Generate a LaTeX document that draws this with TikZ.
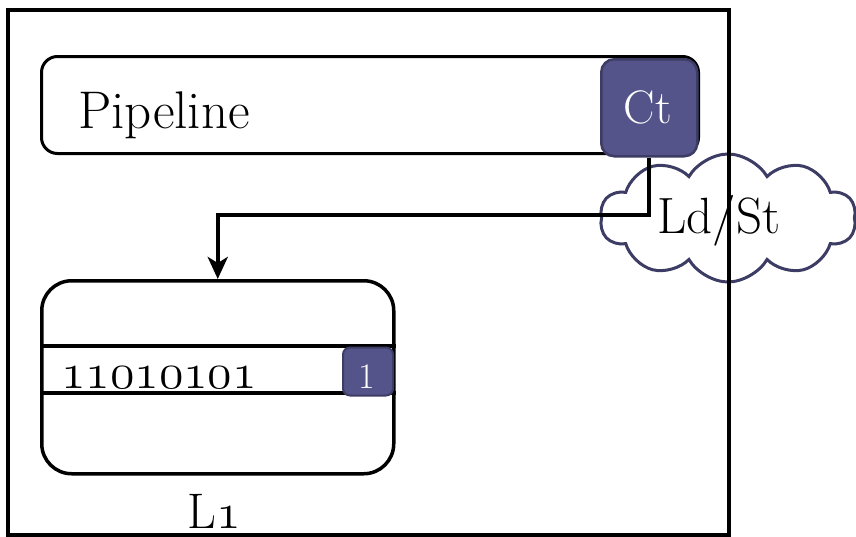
\RequirePackage{fix-cm}
\documentclass[tikz,border=0pt]{standalone}
\usetikzlibrary{shapes.symbols,arrows.meta}
\definecolor{tagfill}{RGB}{84,84,138}
\definecolor{tagedge}{RGB}{60,60,100}
\newcommand\fs[1]{\fontsize{#1}{#1}\selectfont}
\tikzset{
  box/.style={draw, line width=3pt, rounded corners=#1, inner sep=0pt},
  tag/.style={draw=tagedge, fill=tagfill, line width=2.5pt, rounded corners=#1,
    inner sep=0pt, text=white},
  wire/.style={line width=4pt},
}
\begin{document}
\begin{tikzpicture}[x=1pt,y=-1pt]
\useasboundingbox (0,0) rectangle (856,536);

% pipeline bar with its control tag
\node[box=16pt, minimum width=657pt, minimum height=97pt, anchor=north west]
  (pipe) at (40,55) {};
\node[font=\fs{53}, anchor=base west, inner sep=0pt] (pipetxt) at (78,128) {Pipeline};
\node[tag=13pt, minimum width=96pt, minimum height=97pt, anchor=north west]
  (ct) at (600,58) {};
\node[font=\fs{47}, text=white, anchor=base] (cttxt) at (648,123) {Ct};

% load/store cloud
\node[cloud, draw=tagedge, fill=white, line width=3pt, cloud puffs=10,
  cloud puff arc=120, aspect=2, minimum width=256pt, minimum height=128pt,
  inner sep=0pt] (cloud) at (728,218) {};
\node[font=\fs{51}, anchor=base] (ldst) at (719,233) {Ld/St};

% L1 cache block
\node[box=30pt, line width=3.5pt, minimum width=352pt, minimum height=193pt,
  anchor=north west] (l1) at (40,279) {};
\coordinate (rowtop) at (0,346);
\coordinate (rowbot) at (0,393);
\draw[line width=3.5pt] (l1.west |- rowtop) -- (l1.east |- rowtop);
\draw[line width=3.5pt] (l1.west |- rowbot) -- (l1.east |- rowbot);
\node[font=\fs{50}, anchor=base west, inner sep=0pt] (bits) at (61,388)
  {\legacyoldstylenums{11010101}};
\node[tag=7pt, line width=2pt, minimum width=50pt, minimum height=48pt,
  anchor=north west] (valid) at (342,346.5) {};
\node[font=\fs{36}, text=white, anchor=base] (validtxt) at (367,388) {1};
\node[font=\fs{50}, anchor=base] (l1name) at (214,528) {L\legacyoldstylenums{1}};

% request path from the control tag to L1
\coordinate (bend) at (0,215);
\draw[wire, line join=miter, -{Stealth[length=22pt,width=20pt,inset=6pt]}]
  (ct.south) -- (ct.south |- bend) -- (l1.north |- bend) -- (l1.north);

% enclosing frame
\node[draw, line width=3.5pt, minimum width=721pt, minimum height=525pt,
  inner sep=0pt, anchor=north west] (frame) at (6,8) {};
\end{tikzpicture}
\end{document}
